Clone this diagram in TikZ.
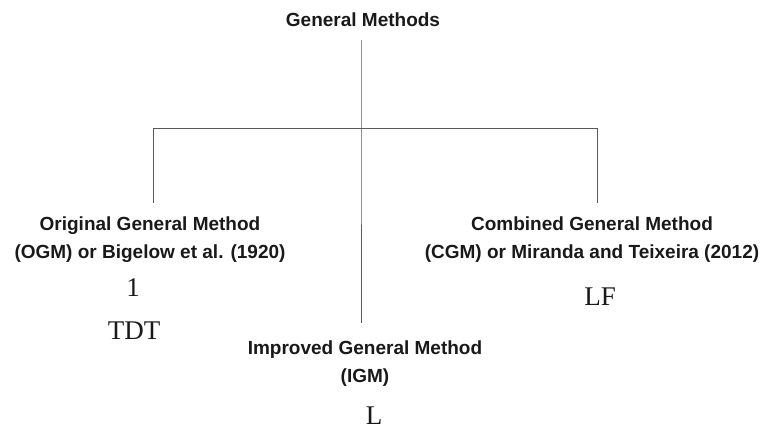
\documentclass[tikz,border=0pt]{standalone}
\usepackage{fontspec}
\setmainfont{Liberation Serif}
\newfontfamily\arialf{Liberation Sans}
\begin{document}
\begin{tikzpicture}[x=1pt,y=-1pt,
  title/.style={font=\arialf\bfseries\fontsize{19}{28}\selectfont, align=center, inner sep=0pt, text=black!90},
  code/.style={font=\fontsize{27}{30}\selectfont, inner sep=0pt, anchor=base, text=black!90},
  link/.style={draw=black!65, line width=1pt}]
\useasboundingbox (0,0) rectangle (770,433);
% titles
\node[title, anchor=base] (gm) at (363,27) {General Methods};
\node[title, anchor=north] (ogm) at (150,217) {Original General Method\\(OGM) or Bigelow et al. (1920)};
\node[title, anchor=north] (cgm) at (592,217) {Combined General Method\\(CGM) or Miranda and Teixeira (2012)};
\node[title, anchor=north] (igm) at (365,341) {Improved General Method\\(IGM)};
% labels
\node[code] (one) at (133,296) {1};
\node[code] (tdt) at (134,339) {TDT};
\node[code] (lf) at (600,305) {LF};
\node[code] (l) at (374,424) {L};
% connectors
\coordinate (top) at (361,40);
\coordinate (hub) at (361,128);
\coordinate (mid) at (361,323);
\coordinate (lj) at (153,128);
\coordinate (rj) at (597,128);
\coordinate (lend) at (153,203);
\coordinate (rend) at (597,203);
\draw[link] (lj) -- (rj);
\draw[link] (top) -- (hub) -- (mid);
\draw[link] (lj) -- (lend);
\draw[link] (rj) -- (rend);
\end{tikzpicture}
\end{document}
